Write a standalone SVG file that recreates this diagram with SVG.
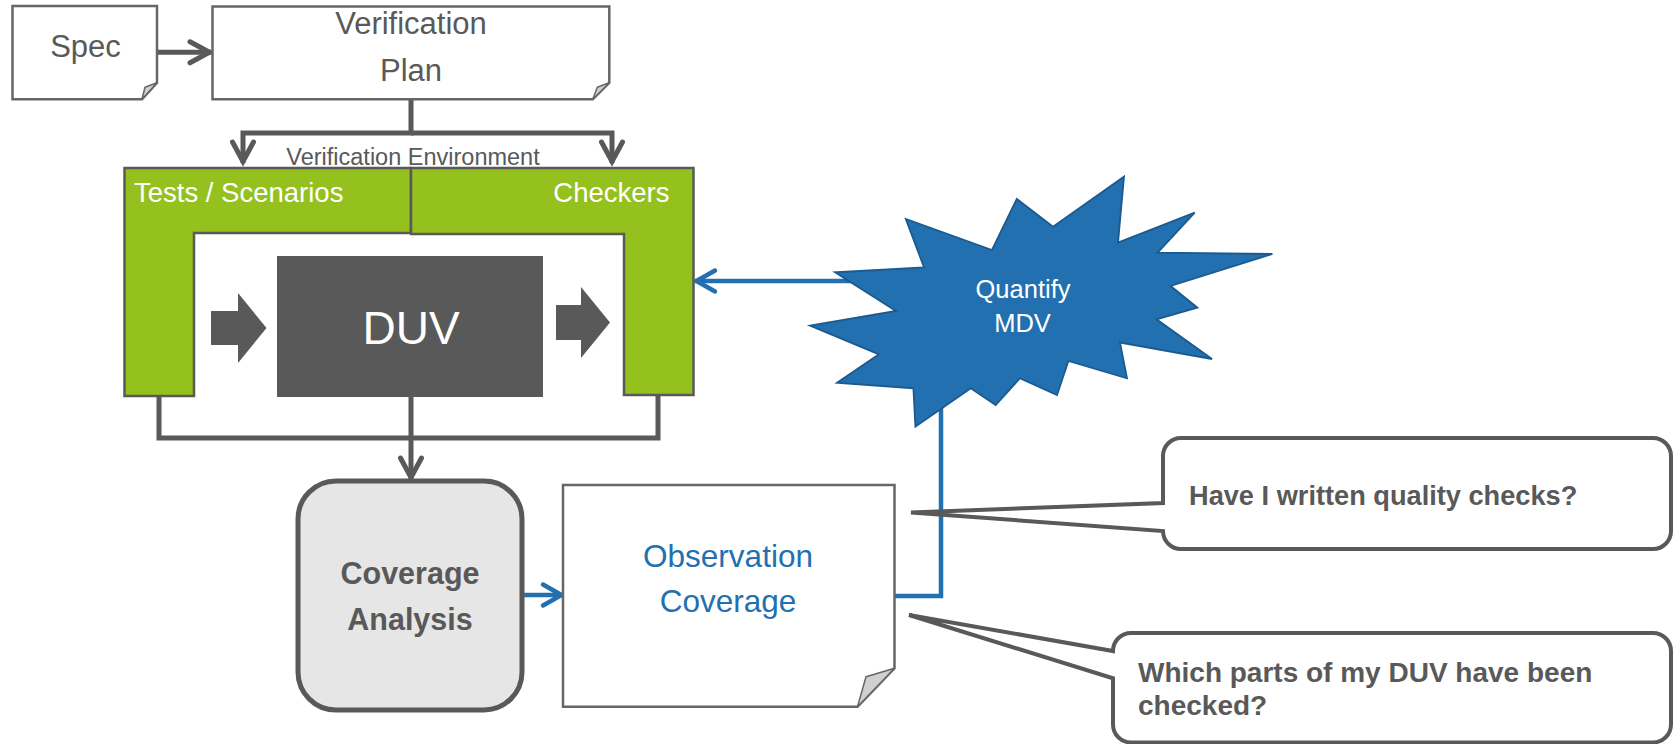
<svg xmlns="http://www.w3.org/2000/svg" width="1674" height="744" viewBox="0 0 1674 744">
  <style>
    .txt { font-family: "Liberation Sans", Arial, sans-serif; }
    .doc { fill: #ffffff; stroke: #666666; stroke-width: 2.5; }
    .fold { fill: #d0d0d0; stroke: #666666; stroke-width: 1.5; stroke-linejoin: round; }
    .green { fill: #95c11f; stroke: #595959; stroke-width: 2.5; }
    .gline { fill: none; stroke: #595959; stroke-width: 5; }
    .bline { fill: none; stroke: #2270b0; stroke-width: 4.5; }
    .callout { fill: #ffffff; stroke: #595959; stroke-width: 4; stroke-linejoin: miter; }
    .dark { fill: #595959; }
  </style>
  <defs>
    <marker id="arrowGray" markerUnits="userSpaceOnUse" markerWidth="40" markerHeight="40" viewBox="-30 -20 40 40" refX="0" refY="0" orient="auto" overflow="visible">
      <path d="M-21,-10.5 L-1.5,0 L-21,10.5" fill="none" stroke="#595959" stroke-width="5" stroke-linecap="round" stroke-linejoin="miter"/>
    </marker>
    <marker id="arrowBlue" markerUnits="userSpaceOnUse" markerWidth="40" markerHeight="40" viewBox="-30 -20 40 40" refX="0" refY="0" orient="auto" overflow="visible">
      <path d="M-20,-10.5 L-1.5,0 L-20,10.5" fill="none" stroke="#2270b0" stroke-width="4.5" stroke-linecap="round" stroke-linejoin="miter"/>
    </marker>
  </defs>

  <!-- connectors -->
  <g id="connectors">
    <path class="gline" d="M157,52.3 H211" marker-end="url(#arrowGray)"/>
    <path class="gline" d="M411,99 V133 H243 V163" marker-end="url(#arrowGray)"/>
    <path class="gline" d="M411,133 H612 V163" marker-end="url(#arrowGray)"/>
    <path class="gline" d="M159,396 V438 H658 V395"/>
    <path class="gline" d="M411,397 V479" marker-end="url(#arrowGray)"/>
    <path class="bline" d="M860,281 H695" marker-end="url(#arrowBlue)"/>
    <path class="bline" d="M941,380 V596 H894"/>
    <path class="bline" d="M522,595 H563" marker-end="url(#arrowBlue)"/>
  </g>

  <!-- Spec document -->
  <g id="spec">
    <path class="doc" d="M12.5,6 H157 V82.7 L142,99.3 H12.5 Z"/>
    <polygon class="fold" points="157,82.7 145,87.3 142,99.3"/>
    <text class="txt" x="85.5" y="57" font-size="31" fill="#595959" text-anchor="middle">Spec</text>
  </g>

  <!-- Verification Plan document -->
  <g id="verification-plan">
    <path class="doc" d="M212.5,6.5 H609.3 V82.7 L592.8,99.3 H212.5 Z"/>
    <polygon class="fold" points="609.3,82.7 597.3,87.3 592.8,99.3"/>
    <text class="txt" x="411" y="34" font-size="31" fill="#595959" text-anchor="middle">Verification</text>
    <text class="txt" x="411" y="81" font-size="31" fill="#595959" text-anchor="middle">Plan</text>
  </g>

  <!-- Verification environment: stimulus and checker frames around the DUV -->
  <g id="verification-environment">
    <text class="txt" x="413" y="165" font-size="23.5" fill="#595959" text-anchor="middle">Verification Environment</text>
  </g>
  <g id="tests-scenarios">
    <path class="green" d="M124.5,168 H411 V233 H194 V396 H124.5 Z"/>
    <text class="txt" x="134" y="202" font-size="27.5" fill="#ffffff">Tests / Scenarios</text>
  </g>
  <g id="checkers">
    <path class="green" d="M411,168 H693.5 V395 H624 V234 H411 Z"/>
    <text class="txt" x="669.5" y="202" font-size="27.5" fill="#ffffff" text-anchor="end">Checkers</text>
  </g>
  <g id="stimulus-arrow">
    <polygon class="dark" points="211,311 238,311 238,293 266.5,328 238,363 238,345 211,345"/>
  </g>
  <g id="duv">
    <rect x="277" y="256" width="266" height="141" fill="#595959"/>
    <text class="txt" x="411" y="344" font-size="46" fill="#ffffff" text-anchor="middle">DUV</text>
  </g>
  <g id="response-arrow">
    <polygon class="dark" points="556,305 581,305 581,287 610,322.5 581,358 581,340 556,340"/>
  </g>

  <!-- Quantify MDV burst -->
  <g id="quantify-mdv">
    <polygon fill="#2270b0" stroke="#1b5a8f" stroke-width="1.8" stroke-linejoin="miter"
      points="1124,176.7 1118,242.7 1194.7,212.7 1157.6,252.7 1272.4,254 1170.6,286 1197.4,307.7 1156.5,319.3 1212,359 1120,342.7 1127,378.3 1068.4,361 1057,395 1019.8,378.3 995.7,405 970.8,388.3 915.4,426.7 913.4,388.3 837,382.7 879,354.3 810,325.7 896,311 835,272.3 924,267.3 905.8,219 992,250 1016.8,199 1053,226.7"/>
    <text class="txt" x="1023" y="298" font-size="25.5" fill="#ffffff" text-anchor="middle">Quantify</text>
    <text class="txt" x="1022.5" y="332" font-size="25.5" fill="#ffffff" text-anchor="middle">MDV</text>
  </g>

  <!-- Coverage Analysis -->
  <g id="coverage-analysis">
    <rect x="298" y="481" width="224" height="229" rx="38" ry="38" fill="#e6e6e6" stroke="#595959" stroke-width="5"/>
    <text class="txt" x="410" y="584" font-size="30.5" font-weight="bold" fill="#595959" text-anchor="middle">Coverage</text>
    <text class="txt" x="410" y="630" font-size="30.5" font-weight="bold" fill="#595959" text-anchor="middle">Analysis</text>
  </g>

  <!-- Observation Coverage document -->
  <g id="observation-coverage">
    <path class="doc" d="M563,485 H894.5 V668.3 L857.5,706.7 H563 Z"/>
    <polygon class="fold" points="894.5,668.3 866,676.7 857.5,706.7"/>
    <text class="txt" x="728" y="567" font-size="31.5" fill="#2270b0" text-anchor="middle">Observation</text>
    <text class="txt" x="728" y="612" font-size="31.5" fill="#2270b0" text-anchor="middle">Coverage</text>
  </g>

  <!-- Callouts -->
  <g id="callout-quality-checks">
    <path class="callout" d="M1181,438 H1653 A18,18 0 0 1 1671,456 V531 A18,18 0 0 1 1653,549 H1181 A18,18 0 0 1 1163,531 L911,512.5 L1163,503 V456 A18,18 0 0 1 1181,438 Z"/>
    <text class="txt" x="1189" y="505" font-size="27.2" font-weight="bold" fill="#595959">Have I written quality checks?</text>
  </g>
  <g id="callout-checked-parts">
    <path class="callout" d="M1131,633 H1653 A18,18 0 0 1 1671,651 V724.5 A18,18 0 0 1 1653,742.5 H1131 A18,18 0 0 1 1113,724.5 V678.3 L909,615 L1113,651 A18,18 0 0 1 1131,633 Z"/>
    <text class="txt" x="1138" y="682" font-size="28" font-weight="bold" fill="#595959">Which parts of my DUV have been</text>
    <text class="txt" x="1138" y="715" font-size="28" font-weight="bold" fill="#595959">checked?</text>
  </g>
</svg>
